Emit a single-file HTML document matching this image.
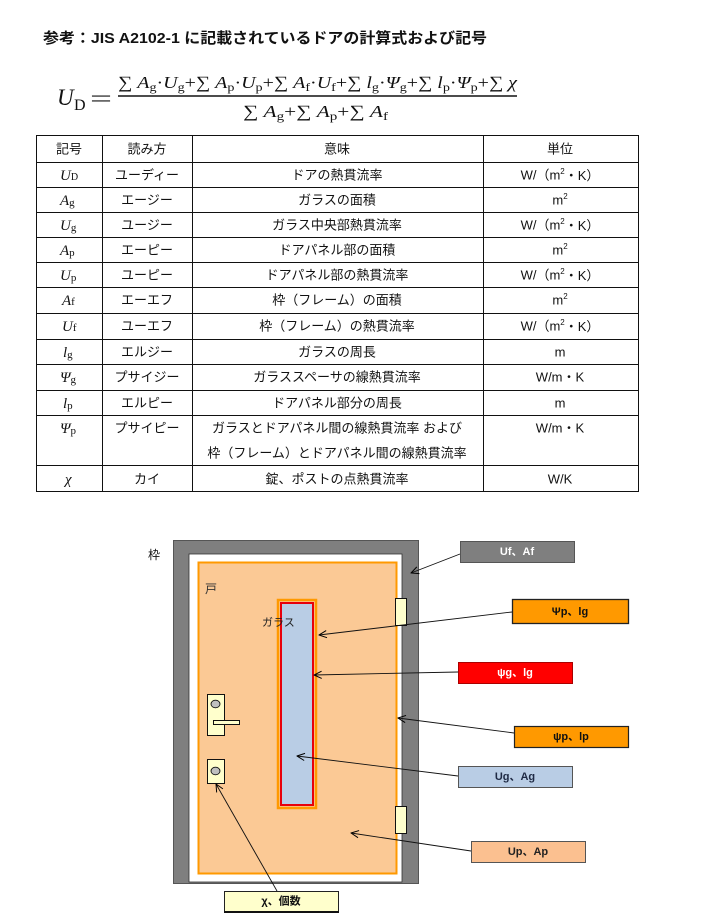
<!DOCTYPE html>
<html><head><meta charset="utf-8"><style>
html,body{margin:0;padding:0;background:#fff;}
svg{display:block;}
.t{font-family:"Liberation Sans","Noto Sans CJK JP",sans-serif;font-size:13px;fill:#111;}
.m{font-family:"Liberation Serif","DejaVu Serif",serif;fill:#111;}
.c{font-family:"Liberation Sans","Noto Sans CJK JP",sans-serif;font-size:11px;font-weight:bold;}
</style></head><body>
<svg width="708" height="922" viewBox="0 0 708 922" xmlns="http://www.w3.org/2000/svg">
<defs>
<marker id="a" viewBox="0 0 10 10" refX="9.5" refY="5" markerWidth="9" markerHeight="9" orient="auto" markerUnits="userSpaceOnUse">
<path d="M1,1 L9.5,5 L1,9" fill="none" stroke="#000" stroke-width="1.1"/>
</marker>
</defs>
<rect width="708" height="922" fill="#fff"/>

<!-- Title -->
<text x="43" y="43" font-family="'Liberation Sans','Noto Sans CJK JP',sans-serif" font-size="15" font-weight="bold" fill="#111" textLength="444" lengthAdjust="spacingAndGlyphs">参考：JIS A2102-1 に記載されているドアの計算式および記号</text>

<!-- Formula -->
<text class="m" x="57" y="105" font-size="23" font-style="italic">U</text>
<text class="m" x="74" y="110" font-size="16">D</text>
<text class="m" x="90" y="106" font-size="23" textLength="22" lengthAdjust="spacingAndGlyphs">=</text>
<line x1="118" y1="96" x2="517" y2="96" stroke="#111" stroke-width="1.4"/>
<text class="m" x="118" y="88" font-size="17" textLength="399" lengthAdjust="spacingAndGlyphs"><tspan>∑ </tspan><tspan font-style="italic">A</tspan><tspan font-size="12" dy="3">g</tspan><tspan dy="-3">·</tspan><tspan font-style="italic">U</tspan><tspan font-size="12" dy="3">g</tspan><tspan dy="-3">+∑ </tspan><tspan font-style="italic">A</tspan><tspan font-size="12" dy="3">p</tspan><tspan dy="-3">·</tspan><tspan font-style="italic">U</tspan><tspan font-size="12" dy="3">p</tspan><tspan dy="-3">+∑ </tspan><tspan font-style="italic">A</tspan><tspan font-size="12" dy="3">f</tspan><tspan dy="-3">·</tspan><tspan font-style="italic">U</tspan><tspan font-size="12" dy="3">f</tspan><tspan dy="-3">+∑ </tspan><tspan font-style="italic">l</tspan><tspan font-size="12" dy="3">g</tspan><tspan dy="-3">·</tspan><tspan font-style="italic">Ψ</tspan><tspan font-size="12" dy="3">g</tspan><tspan dy="-3">+∑ </tspan><tspan font-style="italic">l</tspan><tspan font-size="12" dy="3">p</tspan><tspan dy="-3">·</tspan><tspan font-style="italic">Ψ</tspan><tspan font-size="12" dy="3">p</tspan><tspan dy="-3">+∑ </tspan><tspan font-style="italic">χ</tspan></text>
<text class="m" x="243" y="117" font-size="17" textLength="145" lengthAdjust="spacingAndGlyphs"><tspan>∑ </tspan><tspan font-style="italic">A</tspan><tspan font-size="12" dy="3">g</tspan><tspan dy="-3">+∑ </tspan><tspan font-style="italic">A</tspan><tspan font-size="12" dy="3">p</tspan><tspan dy="-3">+∑ </tspan><tspan font-style="italic">A</tspan><tspan font-size="12" dy="3">f</tspan></text>

<!-- Table lines -->
<g stroke="#111" stroke-width="1">
<line x1="36" y1="135.5" x2="638" y2="135.5"/>
<line x1="36" y1="162.5" x2="638" y2="162.5"/>
<line x1="36" y1="187.5" x2="638" y2="187.5"/>
<line x1="36" y1="212.5" x2="638" y2="212.5"/>
<line x1="36" y1="237.5" x2="638" y2="237.5"/>
<line x1="36" y1="262.5" x2="638" y2="262.5"/>
<line x1="36" y1="287.5" x2="638" y2="287.5"/>
<line x1="36" y1="313.5" x2="638" y2="313.5"/>
<line x1="36" y1="339.5" x2="638" y2="339.5"/>
<line x1="36" y1="364.5" x2="638" y2="364.5"/>
<line x1="36" y1="390.5" x2="638" y2="390.5"/>
<line x1="36" y1="415.5" x2="638" y2="415.5"/>
<line x1="36" y1="465.5" x2="638" y2="465.5"/>
<line x1="36" y1="491.5" x2="638" y2="491.5"/>
<line x1="36.5" y1="135" x2="36.5" y2="492"/>
<line x1="102.5" y1="135" x2="102.5" y2="492"/>
<line x1="192.5" y1="135" x2="192.5" y2="492"/>
<line x1="483.5" y1="135" x2="483.5" y2="492"/>
<line x1="638.5" y1="135" x2="638.5" y2="492"/>
</g>

<!-- Header -->
<g class="t" text-anchor="middle" dominant-baseline="central">
<text x="69" y="149">記号</text>
<text x="147" y="149">読み方</text>
<text x="337" y="149">意味</text>
<text x="560" y="149">単位</text>

<text x="147" y="175">ユーディー</text>
<text x="337" y="175">ドアの熱貫流率</text>
<text x="560" y="175">W/（m<tspan font-size="8" dy="-4">2</tspan><tspan dy="4">・K）</tspan></text>

<text x="147" y="200">エージー</text>
<text x="337" y="200">ガラスの面積</text>
<text x="560" y="200">m<tspan font-size="8" dy="-4">2</tspan></text>

<text x="147" y="225">ユージー</text>
<text x="337" y="225">ガラス中央部熱貫流率</text>
<text x="560" y="225">W/（m<tspan font-size="8" dy="-4">2</tspan><tspan dy="4">・K）</tspan></text>

<text x="147" y="250">エーピー</text>
<text x="337" y="250">ドアパネル部の面積</text>
<text x="560" y="250">m<tspan font-size="8" dy="-4">2</tspan></text>

<text x="147" y="275">ユーピー</text>
<text x="337" y="275">ドアパネル部の熱貫流率</text>
<text x="560" y="275">W/（m<tspan font-size="8" dy="-4">2</tspan><tspan dy="4">・K）</tspan></text>

<text x="147" y="300">エーエフ</text>
<text x="337" y="300">枠（フレーム）の面積</text>
<text x="560" y="300">m<tspan font-size="8" dy="-4">2</tspan></text>

<text x="147" y="326">ユーエフ</text>
<text x="337" y="326">枠（フレーム）の熱貫流率</text>
<text x="560" y="326">W/（m<tspan font-size="8" dy="-4">2</tspan><tspan dy="4">・K）</tspan></text>

<text x="147" y="352">エルジー</text>
<text x="337" y="352">ガラスの周長</text>
<text x="560" y="352">m</text>

<text x="147" y="377">プサイジー</text>
<text x="337" y="377">ガラススペーサの線熱貫流率</text>
<text x="560" y="377">W/m・K</text>

<text x="147" y="403">エルピー</text>
<text x="337" y="403">ドアパネル部分の周長</text>
<text x="560" y="403">m</text>

<text x="147" y="428">プサイピー</text>
<text x="337" y="428">ガラスとドアパネル間の線熱貫流率 および</text>
<text x="337" y="453">枠（フレーム）とドアパネル間の線熱貫流率</text>
<text x="560" y="428">W/m・K</text>

<text x="147" y="479">カイ</text>
<text x="337" y="479">錠、ポストの点熱貫流率</text>
<text x="560" y="479">W/K</text>
</g>

<!-- Symbol column -->
<g class="m" font-size="15">
<text x="60" y="180"><tspan font-style="italic">U</tspan><tspan font-size="10">D</tspan></text>
<text x="60" y="205"><tspan font-style="italic">A</tspan><tspan font-size="11" dy="1">g</tspan></text>
<text x="60" y="230"><tspan font-style="italic">U</tspan><tspan font-size="11" dy="1">g</tspan></text>
<text x="60" y="255"><tspan font-style="italic">A</tspan><tspan font-size="11" dy="1">p</tspan></text>
<text x="60" y="280"><tspan font-style="italic">U</tspan><tspan font-size="11" dy="1">p</tspan></text>
<text x="62" y="305"><tspan font-style="italic">A</tspan><tspan font-size="11">f</tspan></text>
<text x="62" y="331"><tspan font-style="italic">U</tspan><tspan font-size="11">f</tspan></text>
<text x="63" y="357"><tspan font-style="italic">l</tspan><tspan font-size="11" dy="1">g</tspan></text>
<text x="60" y="382"><tspan font-style="italic">Ψ</tspan><tspan font-size="11" dy="1">g</tspan></text>
<text x="63" y="408"><tspan font-style="italic">l</tspan><tspan font-size="11" dy="1">p</tspan></text>
<text x="60" y="433"><tspan font-style="italic">Ψ</tspan><tspan font-size="11" dy="1">p</tspan></text>
<text x="65" y="484" font-style="italic">χ</text>
</g>

<!-- Diagram -->
<text x="148" y="559" font-family="'Liberation Sans','Noto Sans CJK JP',sans-serif" font-size="12" fill="#111">枠</text>
<rect x="173.5" y="540.5" width="245" height="343" fill="#7f7f7f" stroke="#555" stroke-width="1"/>
<rect x="189" y="554" width="213" height="328" fill="#fff" stroke="#333" stroke-width="0.8"/>
<rect x="198.5" y="562.5" width="198" height="311" fill="#fbc995" stroke="#ff9900" stroke-width="2"/>
<text x="205" y="593" font-family="'Liberation Sans','Noto Sans CJK JP',sans-serif" font-size="12" fill="#333">戸</text>
<rect x="278" y="600" width="38" height="208" fill="none" stroke="#ff9900" stroke-width="2.5"/>
<rect x="281" y="603" width="32" height="202" fill="#b9cde5" stroke="#e8000b" stroke-width="2"/>
<text x="262" y="626" font-family="'Liberation Sans','Noto Sans CJK JP',sans-serif" font-size="11" fill="#222">ガラス</text>

<rect x="395.5" y="598.5" width="11" height="27" fill="#ffffcc" stroke="#111" stroke-width="1"/>
<rect x="395.5" y="806.5" width="11" height="27" fill="#ffffcc" stroke="#111" stroke-width="1"/>

<rect x="207.5" y="694.5" width="17" height="41" fill="#ffffcc" stroke="#111" stroke-width="1"/>
<ellipse cx="215.5" cy="704" rx="4.5" ry="3.8" fill="#bfbfbf" stroke="#111" stroke-width="0.9"/>
<rect x="213.5" y="720.5" width="26" height="4" fill="#ffffcc" stroke="#111" stroke-width="1"/>
<rect x="207.5" y="759.5" width="17" height="24" fill="#ffffcc" stroke="#111" stroke-width="1"/>
<ellipse cx="215.5" cy="771" rx="4.5" ry="3.8" fill="#bfbfbf" stroke="#111" stroke-width="0.9"/>

<!-- Arrows -->
<g stroke="#111" stroke-width="0.9" fill="none" marker-end="url(#a)">
<line x1="460" y1="554" x2="411" y2="573"/>
<line x1="512" y1="612" x2="319" y2="635"/>
<line x1="458" y1="672" x2="314" y2="675"/>
<line x1="514" y1="733" x2="398" y2="718"/>
<line x1="458" y1="776" x2="297" y2="756"/>
<line x1="471" y1="851" x2="351" y2="833"/>
<line x1="277" y1="891" x2="216" y2="784"/>
</g>

<!-- Callouts -->
<rect x="460.5" y="541.5" width="114" height="21" fill="#7f7f7f" stroke="#555" stroke-width="1"/>
<text class="c" x="517" y="552" text-anchor="middle" dominant-baseline="central" fill="#fff">Uf、Af</text>

<rect x="512.5" y="599.5" width="116" height="24" fill="#ff9900" stroke="#222" stroke-width="1.3"/>
<text class="c" x="570" y="612" text-anchor="middle" dominant-baseline="central" fill="#111">Ψp、lg</text>

<rect x="458.5" y="662.5" width="114" height="21" fill="#ff0000" stroke="#a00" stroke-width="1"/>
<text class="c" x="515" y="673" text-anchor="middle" dominant-baseline="central" fill="#fff">ψg、lg</text>

<rect x="514.5" y="726.5" width="114" height="21" fill="#ff9900" stroke="#222" stroke-width="1.2"/>
<text class="c" x="571" y="737" text-anchor="middle" dominant-baseline="central" fill="#111">ψp、lp</text>

<rect x="458.5" y="766.5" width="114" height="21" fill="#b9cde5" stroke="#555" stroke-width="1"/>
<text class="c" x="515" y="777" text-anchor="middle" dominant-baseline="central" fill="#1f2a44">Ug、Ag</text>

<rect x="471.5" y="841.5" width="114" height="21" fill="#fbc090" stroke="#555" stroke-width="1"/>
<text class="c" x="528" y="852" text-anchor="middle" dominant-baseline="central" fill="#222">Up、Ap</text>

<rect x="224.5" y="891.5" width="114" height="20" fill="#ffffcc" stroke="#222" stroke-width="1"/>
<line x1="224" y1="912" x2="339" y2="912" stroke="#111" stroke-width="2"/>
<text class="c" x="281" y="901.5" text-anchor="middle" dominant-baseline="central" fill="#111">χ、個数</text>
</svg>
</body></html>
